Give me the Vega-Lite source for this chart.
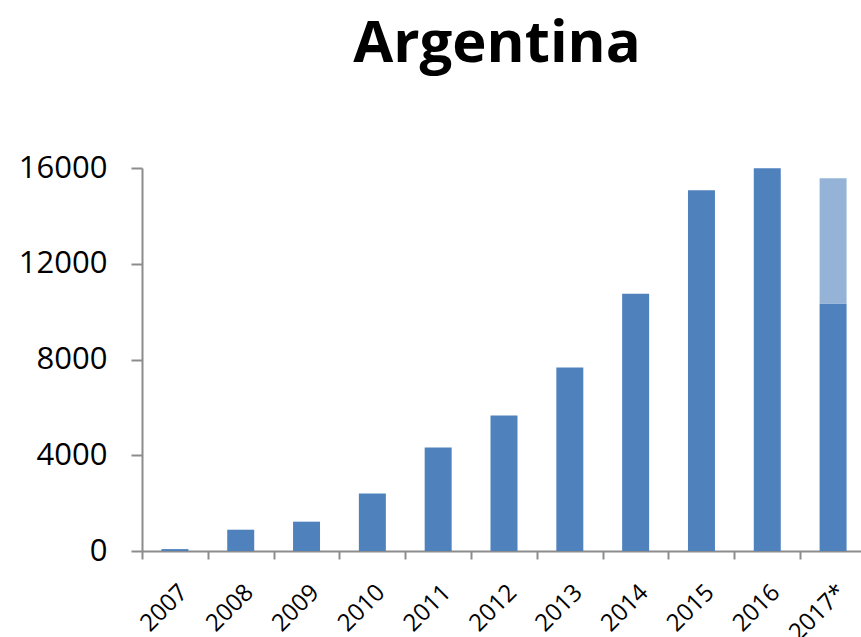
{
  "$schema": "https://vega.github.io/schema/vega-lite/v6.json",
  "autosize": "none",
  "padding": {"left": 142, "top": 168, "right": 0, "bottom": 90},
  "width": 724,
  "height": 383,
  "title": {
    "text": "Argentina",
    "font": "Open Sans",
    "fontSize": 58,
    "fontWeight": "bold",
    "color": "#000000",
    "anchor": "middle",
    "dx": -7,
    "offset": 78
  },
  "data": {
    "values": [
      {"year": "2007", "part": "actual", "value": 80},
      {"year": "2008", "part": "actual", "value": 890},
      {"year": "2009", "part": "actual", "value": 1225},
      {"year": "2010", "part": "actual", "value": 2400},
      {"year": "2011", "part": "actual", "value": 4320},
      {"year": "2012", "part": "actual", "value": 5660},
      {"year": "2013", "part": "actual", "value": 7665},
      {"year": "2014", "part": "actual", "value": 10750},
      {"year": "2015", "part": "actual", "value": 15070},
      {"year": "2016", "part": "actual", "value": 15990},
      {"year": "2017*", "part": "actual", "value": 10340},
      {"year": "2017*", "part": "estimate", "value": 5230}
    ]
  },
  "mark": {"type": "bar"},
  "encoding": {
    "x": {
      "field": "year",
      "type": "nominal",
      "sort": null,
      "scale": {"paddingInner": 0.59, "paddingOuter": 0.295},
      "axis": {
        "title": null,
        "labelAngle": -45,
        "labelFont": "Open Sans",
        "labelFontSize": 24,
        "labelColor": "#000000",
        "labelPadding": 21,
        "tickOffset": -33,
        "labelOffset": 33,
        "tickSize": 8,
        "tickWidth": 2,
        "tickColor": "#8c8c8c",
        "domainColor": "#8c8c8c",
        "domainWidth": 2
      }
    },
    "y": {
      "field": "value",
      "type": "quantitative",
      "stack": "zero",
      "scale": {"domain": [0, 16000], "nice": false},
      "axis": {
        "title": null,
        "format": "d",
        "values": [0, 4000, 8000, 12000, 16000],
        "grid": false,
        "labelFont": "Open Sans",
        "labelFontSize": 31,
        "labelColor": "#000000",
        "labelPadding": 24,
        "tickSize": 11,
        "tickWidth": 2,
        "tickColor": "#8c8c8c",
        "domainColor": "#8c8c8c",
        "domainWidth": 2
      }
    },
    "color": {
      "field": "part",
      "type": "nominal",
      "scale": {"domain": ["actual", "estimate"], "range": ["#4f81bd", "#95b3d7"]},
      "legend": null
    },
    "order": {"field": "part", "sort": "ascending"}
  },
  "config": {"view": {"stroke": null}}
}
